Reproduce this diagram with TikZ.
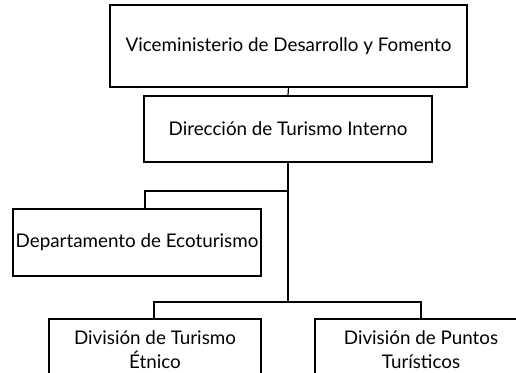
\documentclass[tikz,border=0pt]{standalone}
\usepackage{fontspec}
\setmainfont{Lato}
\begin{document}
\begin{tikzpicture}[x=1pt,y=-1pt,
  box/.style={draw,line width=1.2pt,inner sep=0pt,align=center,font=\fontsize{18.8}{24}\selectfont},
  conn/.style={line width=1.2pt}]
\useasboundingbox (0,0) rectangle (516,372);
\clip (0,0) rectangle (516,372);
\node[box,minimum width=357,minimum height=82] (v) at (288.5,46) {Viceministerio de Desarrollo y Fomento};
\node[box,minimum width=288,minimum height=66] (d) at (288,129) {Dirección de Turismo Interno};
\node[box,minimum width=248,minimum height=67] (e) at (137,242.5) {Departamento de Ecoturismo};
\node[box,minimum width=212,minimum height=62] (t) at (155,350) {División de Turismo\\Étnico};
\node[box,minimum width=212,minimum height=62] (p) at (421,350) {División de Puntos\\Turísticos};
\coordinate (j1) at (288,191);
\coordinate (j2) at (288,302);
\draw[conn] (v.south) -- (d.north);
\draw[conn] (d.south) -- (j2);
\draw[conn] (j1) -| ([xshift=8pt]e.north);
\draw[conn] (j2) -| ([xshift=-1pt]t.north);
\draw[conn] (j2) -| (p.north);
\end{tikzpicture}
\end{document}
